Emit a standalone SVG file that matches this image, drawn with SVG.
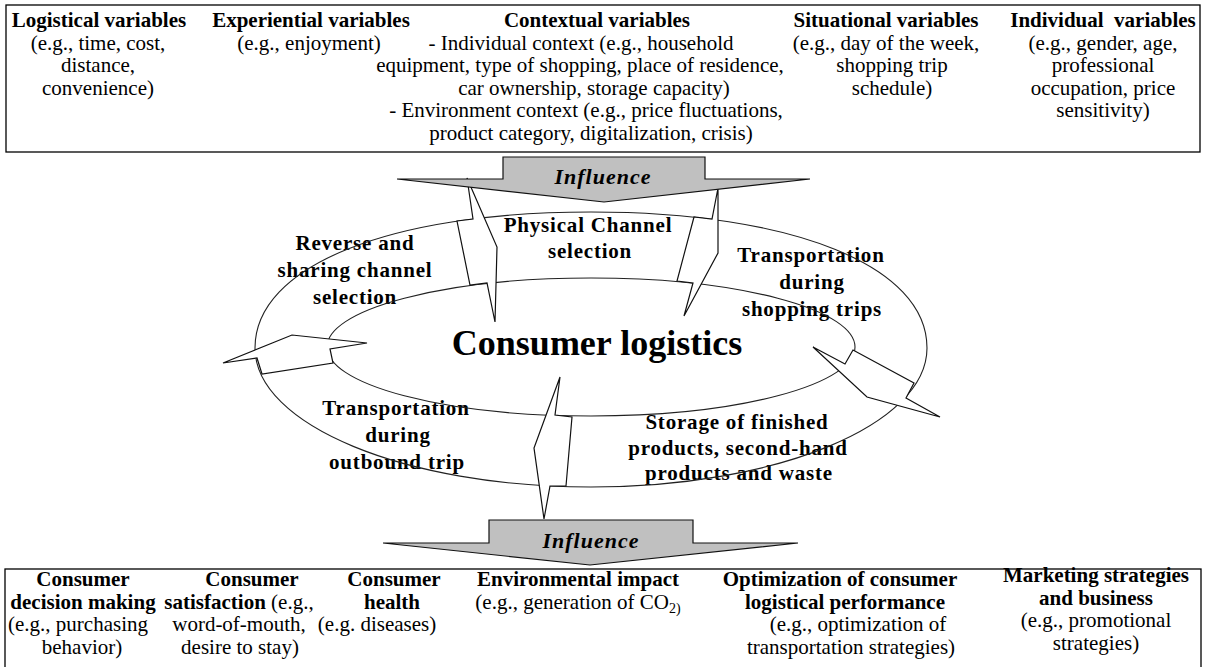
<svg xmlns="http://www.w3.org/2000/svg" width="1205" height="667" viewBox="0 0 1205 667">
<style>
text{font-family:"Liberation Serif","Times New Roman",serif;font-size:21px;fill:#000;text-anchor:middle}
.b{font-weight:bold}
.r{font-weight:bold;letter-spacing:0.8px}
.big{font-weight:bold;font-size:36px}
.inf{font-weight:bold;font-style:italic;font-size:22px;letter-spacing:1px}
.box{fill:#fff;stroke:#000;stroke-width:1.3}
.ring{fill:none;stroke:#222;stroke-width:1.1}
.bolt{fill:#fff;stroke:#111;stroke-width:1.2;stroke-linejoin:miter}
.gray{fill:#c0c0c0;stroke:#111;stroke-width:1.2}
</style>
<rect width="1205" height="667" fill="#fff"/>

<g id="node-context-variables">
<rect class="box" x="6" y="5" width="1194" height="147"/>
<text class="b" x="99" y="27">Logistical variables</text>
<text x="98" y="49.6">(e.g., time, cost,</text>
<text x="98" y="72.2">distance,</text>
<text x="98" y="94.8">convenience)</text>
<text class="b" x="311" y="27">Experiential variables</text>
<text x="309" y="49.6">(e.g., enjoyment)</text>
<text class="b" x="597" y="27">Contextual variables</text>
<text x="581" y="49.6">- Individual context (e.g., household</text>
<text x="580" y="72.2">equipment, type of shopping, place of residence,</text>
<text x="594" y="94.8">car ownership, storage capacity)</text>
<text x="586" y="117.4">- Environment context (e.g., price fluctuations,</text>
<text x="591" y="140">product category, digitalization, crisis)</text>
<text class="b" x="886" y="27">Situational variables</text>
<text x="886" y="49.6">(e.g., day of the week,</text>
<text x="892" y="72.2">shopping trip</text>
<text x="892" y="94.8">schedule)</text>
<text class="b" x="1103" y="27" xml:space="preserve">Individual  variables</text>
<text x="1103" y="49.6">(e.g., gender, age,</text>
<text x="1103" y="72.2">professional</text>
<text x="1103" y="94.8">occupation, price</text>
<text x="1103" y="117.4">sensitivity)</text>
</g>

<g id="node-outcomes">
<rect class="box" x="5" y="569" width="1196" height="110"/>
<text class="b" x="83" y="586">Consumer</text>
<text class="b" x="83" y="608.5">decision making</text>
<text x="78" y="631">(e.g., purchasing</text>
<text x="82" y="653.5">behavior)</text>
<text class="b" x="252" y="586">Consumer</text>
<text x="239" y="608.5"><tspan font-weight="bold">satisfaction</tspan> (e.g.,</text>
<text x="239" y="631">word-of-mouth,</text>
<text x="240" y="653.5">desire to stay)</text>
<text class="b" x="394" y="586">Consumer</text>
<text class="b" x="392" y="608.5">health</text>
<text x="377" y="631">(e.g. diseases)</text>
<text class="b" x="578" y="586">Environmental impact</text>
<text x="578" y="608.5">(e.g., generation of CO<tspan font-size="14" dy="4">2)</tspan></text>
<text class="b" x="840" y="586">Optimization of consumer</text>
<text class="b" x="845" y="608.5">logistical performance</text>
<text x="858" y="631">(e.g., optimization of</text>
<text x="851" y="653.5">transportation strategies)</text>
<text class="b" x="1096" y="582">Marketing strategies</text>
<text class="b" x="1096" y="604.5">and business</text>
<text x="1096" y="627">(e.g., promotional</text>
<text x="1096" y="649.5">strategies)</text>
</g>

<g id="node-ring-labels">
<text class="r" x="588" y="232">Physical Channel</text>
<text class="r" x="590" y="258">selection</text>
<text class="r" x="355" y="250">Reverse and</text>
<text class="r" x="355" y="277">sharing channel</text>
<text class="r" x="355" y="304">selection</text>
<text class="r" x="811" y="262">Transportation</text>
<text class="r" x="812" y="289">during</text>
<text class="r" x="812" y="316">shopping trips</text>
<text class="r" x="396" y="415">Transportation</text>
<text class="r" x="398" y="442">during</text>
<text class="r" x="397" y="469">outbound trip</text>
<text class="r" x="737" y="429">Storage of finished</text>
<text class="r" x="738" y="455">products, second-hand</text>
<text class="r" x="739" y="480">products and waste</text>
</g>

<g id="node-consumer-logistics">
<text class="big" x="597" y="355">Consumer logistics</text>
</g>

<g id="node-ring">
<path class="ring" d="M255,348 C255,266 389,212 591,212 C793,212 927,266 927,348 C927,425 777,487 591,487 C405,487 255,425 255,348 Z"/>
<ellipse class="ring" cx="591" cy="347" rx="264" ry="69"/>
</g>

<g id="connectors">
<polygon class="bolt" points="467,178 473,219 457,221 470,285 487,283 495,322 497,247"/>
<polygon class="bolt" points="718,188 712,219 694,217 677,281 693,283 684,316 718,253"/>
<polygon class="bolt" points="813,347 845,364 853,350 914,383 906,398 940,417 867,397"/>
<polygon class="bolt" points="560,377 555,415 572,417 566,486 550,486 544,519 534,448"/>
<polygon class="bolt" points="367,343 330,349 333,363 262,374 257,358 223,363 292,335"/>
</g>

<g id="node-influence-top">
<polygon class="gray" points="503,157 705,157 705,179 810,179 604,202 397,179 503,179"/>
<text class="inf" x="603" y="184">Influence</text>
</g>

<g id="node-influence-bottom">
<polygon class="gray" points="489,520 693,520 693,543 798,543 590,565 383,543 489,543"/>
<text class="inf" x="591" y="548">Influence</text>
</g>
</svg>
